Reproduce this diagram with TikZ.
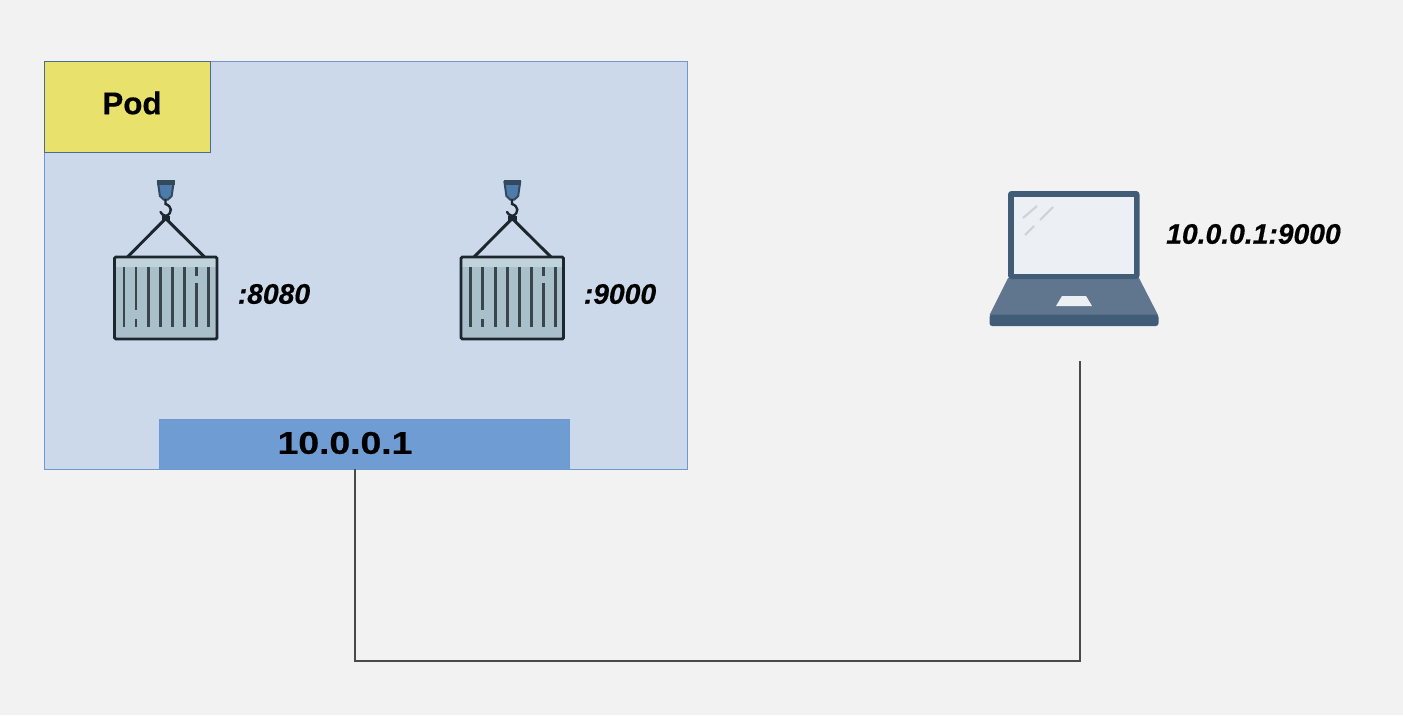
\documentclass[tikz,border=0pt]{standalone}
\usepackage{fontspec}
\usepackage{graphicx}
\setmainfont{Liberation Sans}[BoldFeatures={FakeBold=0.5},BoldItalicFeatures={FakeBold=0.5}]
\definecolor{bgc}{HTML}{F2F2F2}
\definecolor{podfill}{HTML}{CBD9EB}
\definecolor{podline}{HTML}{7198CC}
\definecolor{tagfill}{HTML}{E8E16C}
\definecolor{ipfill}{HTML}{6F9CD2}
\definecolor{lapmid}{HTML}{5F768E}
\definecolor{lapdark}{HTML}{415C77}
\definecolor{lapscreen}{HTML}{ECF0F5}
\definecolor{lapglint}{HTML}{CDD3DA}
\definecolor{boxfill}{HTML}{A9BFC9}
\definecolor{boxtop}{HTML}{C0D2DA}
\definecolor{inkc}{HTML}{1C262E}
\definecolor{hookfill}{HTML}{4D7CAC}
\definecolor{hookdark}{HTML}{33495C}
\definecolor{wirec}{HTML}{4A4A4A}
\tikzset{
  x=0.75pt,y=-0.75pt,
  podbox/.style={draw=podline,line width=0.75pt,fill=podfill,minimum width=482pt,minimum height=306pt,inner sep=0pt},
  tagbox/.style={draw=podline!70!black,line width=0.75pt,fill=tagfill,minimum width=124.5pt,minimum height=68.5pt,inner sep=0pt},
  ipbox/.style={draw=podline,line width=0.6pt,fill=ipfill,minimum width=307pt,minimum height=37.5pt,inner sep=0pt},
  taglabel/.style={inner sep=0pt,font=\fontsize{23.5}{28}\selectfont\bfseries,text=black},
  iplabel/.style={inner sep=0pt,font=\fontsize{23.5}{28}\selectfont\bfseries,text=black},
  portlabel/.style={inner sep=0pt,font=\fontsize{21.2}{25}\selectfont\bfseries\itshape,text=black},
  wire/.style={draw=wirec,line width=0.8pt},
  stripe/.style={draw=inkc!80!boxfill,line width=2.1pt},
  strap/.style={draw=inkc,line width=2.2pt},
  cargo/.pic={
    % hook block
    \fill[hookfill] (157.5,181) -- (174,181) -- (172,196) -- (168,199.5) -- (163.5,199.5) -- (159.5,196) -- cycle;
    \fill[hookdark] (157,180) rectangle (174.5,184.5);
    \draw[hookdark,line width=1.5pt] (157.8,181) -- (159.9,196) -- (163.5,199.5) -- (168,199.5) -- (171.7,196) -- (173.8,181);
    % hook
    \draw[inkc,line width=1.8pt,line cap=round] (165.5,200) -- (165.5,204) .. controls (172,206) and (173,213) .. (166,216) .. controls (163,215) and (161,214) .. (160.5,212);
    % straps
    \draw[strap,line join=round] (127.5,257) -- (165.7,218.5) -- (204.5,257);
    \fill[inkc] (161.5,216) rectangle (170,221);
    % body
    \fill[boxfill] (114.5,257) rectangle (217,339);
    \fill[boxtop] (114.5,257) rectangle (217,267);
    \draw[inkc,line width=2.2pt,rounded corners=1pt] (114.5,257) rectangle (217,339);
    % stripes
    \foreach \sx in {124,148.7,160.7,172.7,184.7,208.7}
      \draw[stripe] (\sx,267) -- (\sx,327);
    \draw[stripe] (136,267) -- (136,310);
    \draw[stripe] (136,319) -- (136,327);
    \draw[stripe] (196.7,267) -- (196.7,276);
    \draw[stripe] (196.7,283) -- (196.7,327);
  },
}
\begin{document}
\begin{tikzpicture}
\useasboundingbox (0,0) rectangle (1403,715);
\fill[bgc] (0,0) rectangle (1403,715);

\node[podbox] (pod) at (366.3,265) {};
\node[tagbox,anchor=north west] (tag) at (pod.north west) {};
\node[taglabel] (podtext) at (132,103) {Pod};
\node[ipbox] (ip) at (364.5,444) {};
\node[iplabel] (iptext) at (345,443) {\scalebox{1.19}[1]{10.0.0.1}};

\pic (c1) at (0,0) {cargo};
\pic (c2) at (346.5,0) {cargo};
\node[portlabel] (p1) at (274,294) {:8080};
\node[portlabel] (p2) at (620,294) {:9000};

% laptop
\fill[lapmid] (1008,278) -- (1139,278) -- (1158,315) -- (989.5,315) -- cycle;
\fill[lapdark,rounded corners=2pt] (989.5,314.5) rectangle (1158.5,326);
\fill[lapdark,rounded corners=2.5pt] (1008,191) rectangle (1139.5,279);
\fill[lapscreen] (1013.5,197) rectangle (1134,274);
\fill[lapscreen] (1062,296) -- (1086,296) -- (1092,306) -- (1056,306) -- cycle;
\draw[lapglint,line width=1.6pt] (1023,218) -- (1037,206);
\draw[lapglint,line width=1.6pt] (1040,220) -- (1053,207);
\draw[lapglint,line width=1.6pt] (1025,235) -- (1034,226);
\node[portlabel] (lapip) at (1253.5,234) {10.0.0.1:9000};

% connector
\coordinate (wirecorner) at (355,661);
\coordinate (wireend) at (1080,361);
\draw[wire] (ip.south -| wirecorner) -- (wirecorner) -- (wirecorner -| wireend) -- (wireend);
\end{tikzpicture}
\end{document}
